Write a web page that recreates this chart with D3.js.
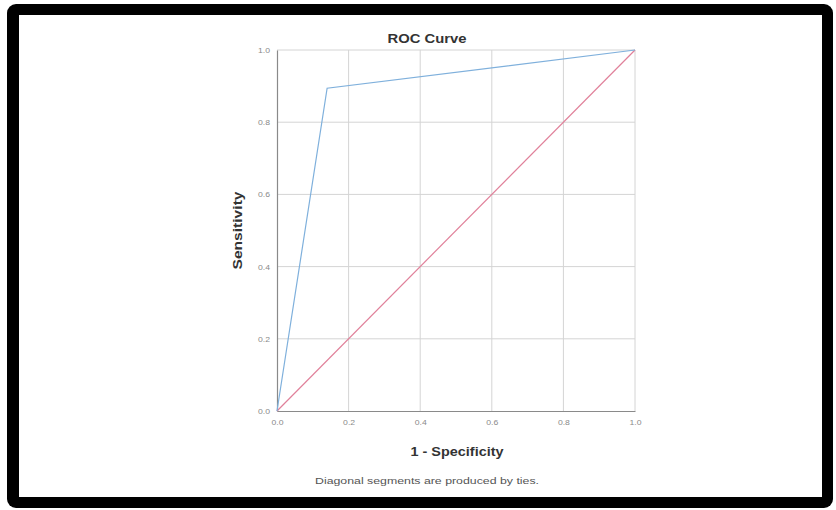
<!DOCTYPE html>
<html>
<head>
<meta charset="utf-8">
<script src="https://cdn.jsdelivr.net/npm/d3@7"></script>
<style>
  body { margin: 0; background: #fff; }
  svg { display: block; font-family: "Liberation Sans", Arial, sans-serif; }
</style>
</head>
<body>
<div id="chart"></div>
<script>
// ROC points (1 - specificity, sensitivity)
var rocFpr = [0, 0.14, 1];
var rocTpr = [0, 0.894, 1];
// reference diagonal
var refFpr = [0, 1];
var refTpr = [0, 1];
var tickValues = [0, 0.2, 0.4, 0.6, 0.8, 1.0];

var W = 836, H = 510;
var margin = {top: 50, right: 201, bottom: 99, left: 277};
var width = W - margin.left - margin.right,
    height = H - margin.top - margin.bottom;

var svg = d3.select("#chart").append("svg")
    .attr("width", W)
    .attr("height", H);

// black rounded frame
svg.append("rect")
    .attr("x", 7).attr("y", 4)
    .attr("width", 826).attr("height", 504)
    .attr("rx", 9)
    .attr("fill", "#000");
svg.append("rect")
    .attr("x", 19).attr("y", 15)
    .attr("width", 803).attr("height", 482)
    .attr("fill", "#fff");

var g = svg.append("g").attr("transform", "translate(" + margin.left + "," + margin.top + ")");

var x = d3.scaleLinear().domain([0, 1]).range([0, width]);
var y = d3.scaleLinear().domain([0, 1]).range([height, 0]);

// grid
g.append("g")
    .selectAll("line")
    .data(tickValues.slice(1))
    .enter().append("line")
      .attr("x1", function(d) { return x(d); })
      .attr("x2", function(d) { return x(d); })
      .attr("y1", 0).attr("y2", height)
      .attr("stroke", "#d4d4d4");
g.append("g")
    .selectAll("line")
    .data(tickValues.slice(1))
    .enter().append("line")
      .attr("y1", function(d) { return y(d); })
      .attr("y2", function(d) { return y(d); })
      .attr("x1", 0).attr("x2", width)
      .attr("stroke", "#d4d4d4");

// axes
var xAxis = g.append("g")
    .attr("transform", "translate(0," + height + ")")
    .call(d3.axisBottom(x).tickValues(tickValues).tickFormat(d3.format(".1f")).tickSize(0).tickPadding(8));
var yAxis = g.append("g")
    .call(d3.axisLeft(y).tickValues(tickValues).tickFormat(d3.format(".1f")).tickSize(0).tickPadding(7));
[xAxis, yAxis].forEach(function(a) {
  a.select(".domain").attr("stroke", "#8a8a8a").attr("stroke-width", 1.2);
  a.selectAll("text").attr("fill", "#8a8a8a").attr("font-size", 8)
    .attr("textLength", 12).attr("lengthAdjust", "spacingAndGlyphs");
});

var line = d3.line()
    .x(function(d) { return x(d[0]); })
    .y(function(d) { return y(d[1]); });

g.append("path")
    .datum(refFpr.map(function(v, i) { return [v, refTpr[i]]; }))
    .attr("d", line)
    .attr("fill", "none")
    .attr("stroke", "#e0809a")
    .attr("stroke-width", 1.2);

g.append("path")
    .datum(rocFpr.map(function(v, i) { return [v, rocTpr[i]]; }))
    .attr("d", line)
    .attr("fill", "none")
    .attr("stroke", "#7fb0dc")
    .attr("stroke-width", 1.2);

// titles
svg.append("text")
    .attr("x", 427).attr("y", 43)
    .attr("text-anchor", "middle")
    .attr("font-size", 12.5)
    .attr("font-weight", "bold")
    .attr("fill", "#333")
    .attr("textLength", 79).attr("lengthAdjust", "spacingAndGlyphs")
    .text("ROC Curve");

svg.append("text")
    .attr("x", 457).attr("y", 456)
    .attr("text-anchor", "middle")
    .attr("font-size", 13)
    .attr("font-weight", "bold")
    .attr("fill", "#333")
    .attr("textLength", 93).attr("lengthAdjust", "spacingAndGlyphs")
    .text("1 - Specificity");

svg.append("text")
    .attr("transform", "translate(242," + (margin.top + height / 2) + ") rotate(-90)")
    .attr("text-anchor", "middle")
    .attr("font-size", 13)
    .attr("font-weight", "bold")
    .attr("fill", "#333")
    .attr("textLength", 78).attr("lengthAdjust", "spacingAndGlyphs")
    .text("Sensitivity");

svg.append("text")
    .attr("x", 427).attr("y", 484)
    .attr("text-anchor", "middle")
    .attr("font-size", 9)
    .attr("fill", "#555")
    .attr("textLength", 224).attr("lengthAdjust", "spacingAndGlyphs")
    .text("Diagonal segments are produced by ties.");
</script>
</body>
</html>
